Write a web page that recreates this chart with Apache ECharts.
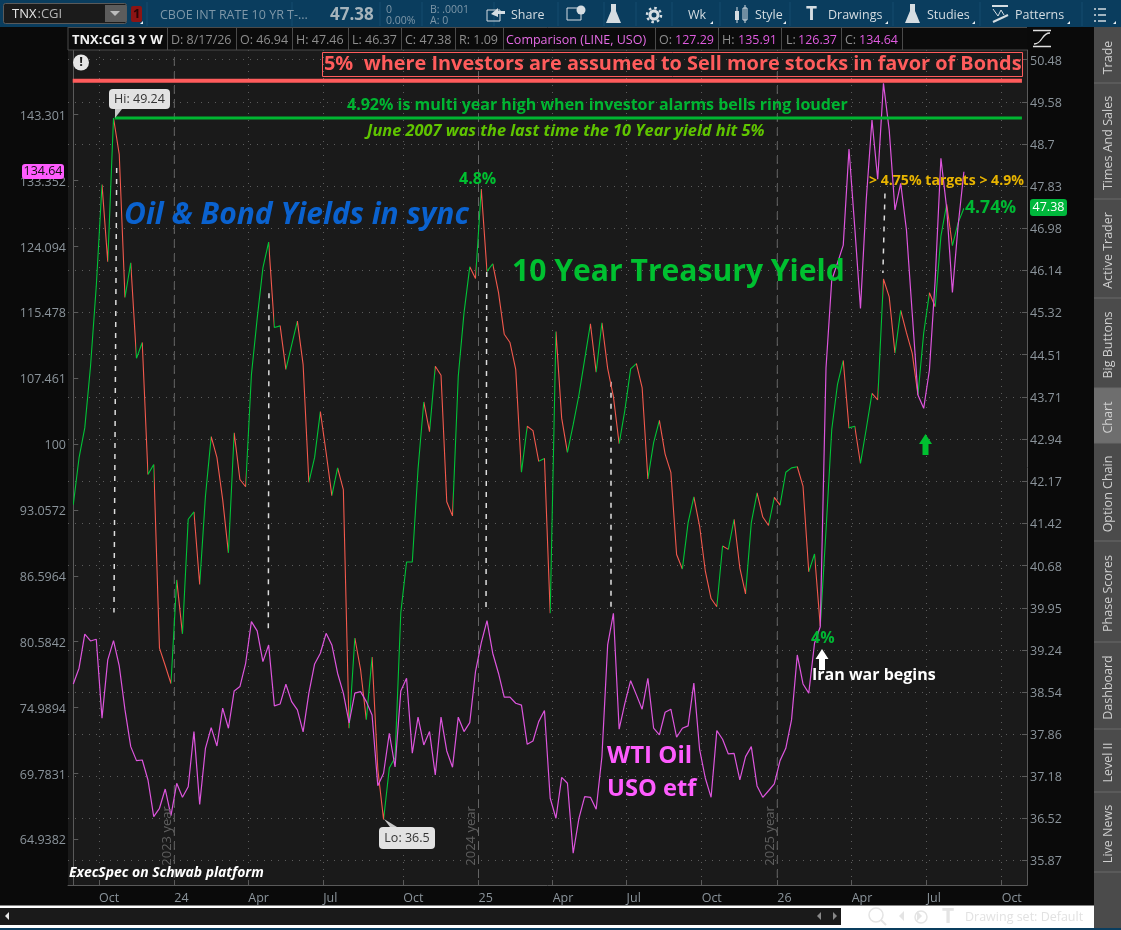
<!DOCTYPE html>
<html><head><meta charset="utf-8">
<style>html,body{margin:0;padding:0;background:#0a0a0a}#c{width:1121px;height:930px}</style>
<script src="https://cdn.jsdelivr.net/npm/echarts@6/dist/echarts.min.js"></script>
</head><body><div id="c"></div>
<script>
const tnxClose=[41.75,42.59,43.14,44.29,45.83,47.86,46.31,49.24,48.48,45.61,46.29,44.44,44.74,42.29,42.47,39.27,38.98,38.68,40.43,39.51,41.49,41.62,40.35,41.90,42.98,42.60,41.84,40.90,43.05,42.20,42.07,44.13,45.20,46.19,46.70,45.03,45.06,44.23,44.69,45.15,44.32,42.15,42.60,43.44,42.69,41.91,42.41,42.02,37.95,39.44,38.91,38.09,39.12,37.29,36.5,37.31,37.48,39.87,40.74,40.74,42.39,43.62,43.07,44.29,44.12,41.80,41.55,44.10,45.31,46.21,45.98,47.77,46.12,46.27,45.71,44.90,44.74,44.23,42.33,43.17,43.09,42.53,42.58,39.86,44.95,43.32,42.69,43.20,43.75,44.42,45.10,44.18,45.12,44.25,43.72,42.85,43.47,44.24,44.34,43.89,42.21,42.87,43.28,42.66,42.33,40.87,40.62,41.43,41.89,41.37,40.58,40.11,39.97,41.02,40.96,41.49,40.64,40.19,41.43,41.96,41.53,41.38,41.88,41.74,42.33,42.41,42.43,42.08,40.57,40.88,39.64,41.29,43.11,43.95,44.40,43.14,43.17,42.49,43.12,43.78,43.66,45.97,45.62,44.54,45.36,44.93,44.54,43.75,44.92,45.70,45.43,46.82,47.46,46.63,47.09,47.38];
const usoClose=[76.95,78.29,81.25,80.65,80.80,74.13,79.0,80.68,78.48,74.80,71.86,70.77,70.82,69.29,66.57,67.18,68.61,66.64,69.04,67.99,68.78,73.05,67.47,71.73,73.37,71.91,74.94,73.32,76.37,76.73,78.71,82.37,81.54,78.85,80.30,75.13,75.29,76.93,75.48,74.80,73.03,76.18,78.65,79.58,81.33,80.30,77.86,76.18,73.75,76.18,76.31,75.48,74.39,68.86,69.80,72.92,70.28,76.37,77.43,71.34,74.21,71.99,73.05,69.67,74.21,71.52,70.26,74.21,73.05,73.77,77.99,80.48,82.46,79.58,77.86,75.85,75.85,75.35,75.19,72.04,72.30,73.85,74.75,67.92,66.45,69.49,69.04,63.96,66.45,68.04,67.99,67.11,71.08,80.30,83.13,73.24,75.35,77.23,76.04,74.86,77.43,73.32,72.79,74.61,74.86,72.60,73.32,73.51,77.02,71.65,69.42,67.99,73.13,72.44,71.29,71.34,69.29,71.08,71.86,68.84,67.99,68.48,68.99,70.77,71.73,73.99,79.43,76.95,76.18,80.45,81.92,108.66,119.63,121.87,124.28,138.03,126.75,115.98,130.55,142.47,133.54,148.30,140.93,129.14,132.96,126.35,115.39,105.51,103.99,108.43,119.63,136.64,129.42,118.03,127.03,134.64];
const rightTicks=[50.48,49.58,48.7,47.83,46.98,46.14,45.32,44.51,43.71,42.94,42.17,41.42,40.68,39.95,39.24,38.54,37.86,37.18,36.52,35.87];
const leftTicks=[143.301,133.352,124.094,115.478,107.461,100,93.0572,86.5964,80.5842,74.9894,69.7831,64.9382];
const xTickWeeks=[4.47,17.58,30.46,43.5,57.43,70.52,83.43,96.3,109.36,122.52,135.46,148.52,161.57];
const xTickLabels=['Oct','24','Apr','Jul','Oct','25','Apr','Jul','Oct','26','Apr','Jul','Oct'];
const yearWeeks=[17.58,70.52,122.52];
const yearLabels=['2023 year','2024 year','2025 year'];
const redLevel=50.03, greenLevel=49.24;
const levelEnd=165.1;
const guides=[[[7.55,48.2],[7.08,39.87]],[[34.06,45.69],[33.94,39.54]],[[71.95,46.11],[71.83,39.89]],[[93.58,44.0],[93.58,39.97]],[[141.26,47.68],[140.9,46.09]]];
const tabs=[['Trade',28,83],['Times And Sales',83,199],['Active Trader',199,298],['Big Buttons',298,388],['Chart',388,443],['Option Chain',443,541],['Phase Scores',541,642],['Dashboard',642,729],['Level II',729,792],['Live News',792,872]];

const F='"Open Sans",sans-serif';
const G=[];
const txt=(x,y,s,c,size,o={})=>G.push(Object.assign({type:'text',x,y:y+(o.rot?0:1),z:o.z||200,rotation:o.rot||0,silent:true,style:{text:s,fill:c,font:(o.it?'italic ':'')+(o.b?'bold ':'')+size+'px '+F,textAlign:o.a||'left',textVerticalAlign:'middle'}}));
const rect=(x,y,w,h,c,o={})=>G.push({type:'rect',z:o.z||150,silent:true,shape:{x,y,width:w,height:h,r:o.r||0},style:{fill:c,stroke:o.s||null,lineWidth:o.lw||1}});
const poly=(pts,c,o={})=>G.push({type:'polygon',z:o.z||200,silent:true,shape:{points:pts},style:{fill:c}});
const ln=(x1,y1,x2,y2,c,w=1,z=190)=>G.push({type:'line',z,silent:true,shape:{x1,y1,x2,y2},style:{stroke:c,lineWidth:w}});

// toolbar
rect(0,0,1121,27,'#0a3d5e');
rect(3.5,3.5,123,20,'#1b1b1b',{s:'#5a5a5a',r:2,z:160});
txt(12,13.5,'TNX','#e6e6e6',13,{});txt(37.5,13.5,':CGI','#b5b5b5',13);
rect(105,5,21,17,'#5c5c5c',{z:165});poly([[110,11],[120,11],[115,16]],'#bcbcbc');
rect(131,6,11,16,'#8c1414',{r:2,z:165});txt(133,13.5,'1','#2a0606',13,{b:true});
[147,292,380,422,494,558,604,636,672,720,790,893,980,1082].forEach(x=>ln(x,2,x,26,'#154c6e',1));
txt(160,14.5,'CBOE INT RATE 10 YR T-...','#7e97a8',12.5);
txt(330,14.5,'47.38','#a6b4bc',17,{b:true});
txt(386,9,'0','#7e97a8',10.5);txt(386,20.5,'0.00%','#7e97a8',10.5);
txt(430,9,'B: .0001','#7e97a8',10.5);txt(430,20.5,'A: 0','#7e97a8',10.5);
txt(511,14,'Share','#d5dde2',12.5);
rect(487,10,13,11,null,{s:'#d5dde2',z:195});poly([[491,14],[498,8],[498,11],[505,11],[505,14],[498,14],[498,17]],'#d5dde2');
rect(567,8,14,12,null,{s:'#d5dde2',z:195});G.push({type:'circle',z:200,silent:true,shape:{cx:581,cy:10,r:4.5},style:{fill:'#d5dde2'}});
const flask=x=>{poly([[x+5,4],[x+10,4],[x+10,11],[x+15,23],[x,23],[x+5,11]],'#d5dde2');};
flask(606);flask(905);
G.push({type:'circle',z:200,silent:true,shape:{cx:654,cy:15,r:4},style:{fill:null,stroke:'#d5dde2',lineWidth:3}});
G.push({type:'circle',z:199,silent:true,shape:{cx:654,cy:15,r:7},style:{fill:null,stroke:'#d5dde2',lineWidth:2.5,lineDash:[2.5,3]}});
txt(688,14,'Wk','#d5dde2',12.5);
rect(735,11,4,9,'#d5dde2',{z:195});rect(743,8,4,12,null,{s:'#d5dde2',z:195});ln(737,7,737,23,'#d5dde2');ln(745,5,745,23,'#d5dde2');
txt(755,14,'Style','#d5dde2',12.5);
txt(806,14,'T','#d5dde2',19,{b:true});
txt(828,14,'Drawings','#d5dde2',12.5);
txt(927,14,'Studies','#d5dde2',12.5);
ln(992,6,1008,6,'#d5dde2',2);ln(993,22,1008,15,'#d5dde2',2);ln(993,9,998,16,'#d5dde2');ln(998,16,1001,10,'#d5dde2');ln(1001,10,1004,15,'#d5dde2');
txt(1015,14,'Patterns','#d5dde2',12.5);
[9,15,21].forEach(y=>{ln(1098,y,1106,y,'#d5dde2',1.5);ln(1094,y,1096,y,'#d5dde2',1.5);});
[[713,24],[786,24],[888,24],[975,24],[1070,24],[1116,24],[143,24]].forEach(([x,y])=>poly([[x-3,y],[x,y],[x,y-3]],'#e8eef2'));

// header row
rect(68,27,959,23,'#0b0b0b');
ln(68,27.5,1027,27.5,'#4a4a4a');ln(68,50,1027,50,'#4a4a4a');ln(68,27,68,50,'#4a4a4a');
[167,236,292,348,401,455,503,655,718,781,841,902].forEach(x=>ln(x+.5,27,x+.5,50,'#4a4a4a'));
txt(72,39,'TNX:CGI 3 Y W','#f2f2f2',13,{b:true});
[[171,'D: 8/17/26'],[240,'O: 46.94'],[296,'H: 47.46'],[352,'L: 46.37'],[405,'C: 47.38'],[459,'R: 1.09']].forEach(([x,s])=>txt(x,39,s,'#8d8d8d',12.5));
txt(506,39,'Comparison (LINE, USO)','#e66be6',12.5);
[[659,'O:',675,'127.29'],[722,'H:',738,'135.91'],[786,'L:',798,'126.37'],[845,'C:',859,'134.64']].forEach(([x,a,x2,b])=>{txt(x,39,a,'#8d8d8d',12.5);txt(x2,39,b,'#e05be0',12.5);});

// right tabs
rect(1094,27,27,903,'#4b4b4b',{z:150});
tabs.forEach(([s,a,b])=>{if(s==='Chart')rect(1094,a,27,b-a,'#6e6e6e',{z:151});ln(1094,b,1121,b,'#6a6a6a',1,152);txt(1108,(a+b)/2+2,s,'#cfcfcf',12.5,{rot:Math.PI/2,a:'center'});});
// bottom strips
rect(0,905.5,1094,22.5,'#ffffff');
rect(0,908,841,17,'#1a1a1a',{z:155});
rect(0,928,1121,2,'#0a3d5e');
poly([[5,916],[9,912],[9,920]],'#e8e8e8');
poly([[817,916],[821,912],[821,920]],'#888');poly([[833,912],[837,916],[833,920]],'#888');
G.push({type:'circle',z:200,silent:true,shape:{cx:876,cy:915,r:7},style:{fill:null,stroke:'#e4e4e4',lineWidth:1.5}});ln(881,920,886,925,'#e4e4e4',2);
poly([[899,916],[904,911],[904,921]],'#e4e4e4');poly([[917,911],[922,916],[917,921]],'#e4e4e4');
G.push({type:'circle',z:200,silent:true,shape:{cx:921,cy:917,r:6},style:{fill:null,stroke:'#e4e4e4',lineWidth:1.5}});
txt(942,916,'T','#e4e4e4',21,{b:true});
txt(965,916,'Drawing set: Default','#e2e2e2',12.5);
// curve icon
ln(1033,30.5,1051,30.5,'#e0e0e0',1.5);ln(1033,46.5,1051,46.5,'#e0e0e0',1.5);
G.push({type:'bezierCurve',z:200,silent:true,shape:{x1:1034,y1:44,cpx1:1043,cpy1:44,cpx2:1041,cpy2:33,x2:1050,y2:33},style:{stroke:'#e0e0e0',lineWidth:1.3,fill:null}});
// alert
G.push({type:'circle',z:200,silent:true,shape:{cx:81,cy:62.5,r:8},style:{fill:'#e6e6e6'}});
txt(81,61.5,'!','#1a1a1a',13,{b:true,a:'center'});
// badges
rect(22,164,42,15,'#ff5cff',{r:3,z:205});txt(43,170.5,'134.64','#111',12.5,{a:'center',z:206});
rect(1030,199,37,17,'#00b83c',{r:3,z:205});txt(1048.5,206.5,'47.38','#fff',12.5,{a:'center',z:206});
// annotations
rect(322.5,52.5,700,24,null,{s:'#ff5c5c',lw:1,z:180});
txt(324,63.5,'5%  where Investors are assumed to Sell more stocks in favor of Bonds','#ff5c5c',19.9,{b:true});
txt(347,104.5,'4.92% is multi year high when investor alarms bells ring louder','#00b531',16,{b:true});
txt(367,130,'June 2007 was the last time the 10 Year yield hit 5%','#5fc400',16.35,{b:true,it:true});
txt(124,214,'Oil & Bond Yields in sync','#0a62cf',30,{b:true,it:true});
txt(512,271,'10 Year Treasury Yield','#00c030',30.1,{b:true});
txt(459,178,'4.8%','#00c030',16,{b:true});
txt(869,180,'> 4.75% targets > 4.9%','#e8b400',14.1,{b:true});
txt(965,206.5,'4.74%','#00b833',17.6,{b:true});
txt(811,637.5,'4%','#00b833',16,{b:true});
txt(812,674.5,'Iran war begins','#ffffff',16,{b:true});
txt(607,755.5,'WTI Oil','#ff5cff',24,{b:true});
txt(607,788.5,'USO etf','#ff5cff',23.7,{b:true});
txt(69,872.5,'ExecSpec on Schwab platform','#ffffff',13.9,{b:true,it:true});
poly([[822,649],[828.5,659],[825,659],[825,670],[819,670],[819,659],[815.5,659]],'#ffffff');
poly([[925.5,434],[932,444],[928.5,444],[928.5,455],[922.5,455],[922.5,444],[919,444]],'#00c030');
// callouts
rect(109,89,61,20,'#e2e2e2',{r:4,z:205});poly([[115,109],[122,109],[115,118]],'#c8c8c8',{z:204});txt(139.5,98.5,'Hi: 49.24','#333',12.5,{a:'center',z:206});
rect(379,827,56,22,'#e2e2e2',{r:4,z:205});poly([[390,827],[397,827],[384,819]],'#c8c8c8',{z:204});txt(407,837.5,'Lo: 36.5','#333',12.5,{a:'center',z:206});
// year labels
[[167,836],[471,836],[770,836]].forEach(([x,y],i)=>txt(x,y,yearLabels[i],'#5f5f5f',13,{rot:Math.PI/2,a:'center',z:120}));

const wk=a=>a.map((v,i)=>[i,v]);
const pieces=[];
for(let i=0;i<tnxClose.length-1;i++){pieces.push({gte:i,lt:i+1,color:tnxClose[i+1]>=tnxClose[i]?'#00c236':'#f2584c'});}
pieces[pieces.length-1].lte=pieces[pieces.length-1].lt;delete pieces[pieces.length-1].lt;

const nearest=(arr,v)=>arr.reduce((b,t)=>Math.abs(t-v)<Math.abs(b-v)?t:b,arr[0]);
const axisCol='#5a5a5a', labCol='#8b949b';
const vLine=(name,data,color,width,type,z)=>({type:'line',name,data,yAxisIndex:1,showSymbol:false,symbol:'none',silent:true,z,lineStyle:{color,width,type},itemStyle:{color}});
const series=[
 {type:'line',name:'TNX:CGI',data:wk(tnxClose),yAxisIndex:1,showSymbol:false,symbol:'none',silent:true,z:5,lineStyle:{width:1.1}},
 {type:'line',name:'USO',data:wk(usoClose),yAxisIndex:0,showSymbol:false,symbol:'none',silent:true,z:6,lineStyle:{width:1.2,color:'#dd55dd'},itemStyle:{color:'#dd55dd'}},
 vLine('5% level',[[-0.1,redLevel],[levelEnd,redLevel]],'#ff5c5c',4,'solid',7),
 vLine('4.92% level',[[7.2,greenLevel],[levelEnd,greenLevel]],'#00b531',3,'solid',7)
];
guides.forEach((g,i)=>series.push(vLine('guide'+i,g,i===3?'#b0b0b0':'#dddddd',i===3?2:1.5,[5,6],4)));
yearWeeks.forEach((w,i)=>series.push(vLine(yearLabels[i],[[w,35.6],[w,50.6]],'#666666',1,[8,6],3)));

const chart=echarts.init(document.getElementById('c'));
chart.setOption({
 animation:false,backgroundColor:'#0a0a0a',
 grid:{left:68,right:94,top:50,bottom:45,show:true,backgroundColor:'#1a1a1a',borderWidth:0},
 visualMap:{show:false,type:'piecewise',seriesIndex:0,dimension:0,pieces},
 xAxis:{type:'value',min:-0.92,max:165.98,
  axisLine:{show:true,lineStyle:{color:axisCol}},
  axisTick:{show:true,inside:true,length:5,lineStyle:{color:axisCol},customValues:xTickWeeks},
  axisLabel:{customValues:xTickWeeks,color:labCol,fontFamily:F,fontSize:12.5,margin:7,align:'left',showMinLabel:true,showMaxLabel:true,
   formatter:v=>xTickLabels[xTickWeeks.indexOf(nearest(xTickWeeks,v))]},
  splitLine:{show:true,lineStyle:{color:'#5c5c5c',type:[1,6],width:1}}},
 yAxis:[
  {type:'log',position:'left',min:61.78,max:153.8,
   axisLine:{show:true,lineStyle:{color:axisCol}},
   axisTick:{show:true,inside:true,length:5,lineStyle:{color:axisCol},customValues:leftTicks},
   axisLabel:{customValues:leftTicks,color:labCol,fontFamily:F,fontSize:12.5,margin:2,verticalAlign:'top',lineHeight:3,
    formatter:v=>String(nearest(leftTicks,v))},
   splitLine:{show:false},minorTick:{show:false}},
  {type:'log',position:'right',min:35.494,max:50.69,
   axisLine:{show:true,lineStyle:{color:axisCol}},
   axisTick:{show:true,inside:true,length:5,lineStyle:{color:axisCol},customValues:rightTicks},
   axisLabel:{customValues:rightTicks,color:labCol,fontFamily:F,fontSize:12.5,margin:3,verticalAlign:'top',lineHeight:3,
    formatter:v=>String(nearest(rightTicks,v))},
   splitLine:{show:true,lineStyle:{color:'#5c5c5c',type:[1,6],width:1}},minorTick:{show:false}}
 ],
 series,
 graphic:G
});
</script></body></html>
